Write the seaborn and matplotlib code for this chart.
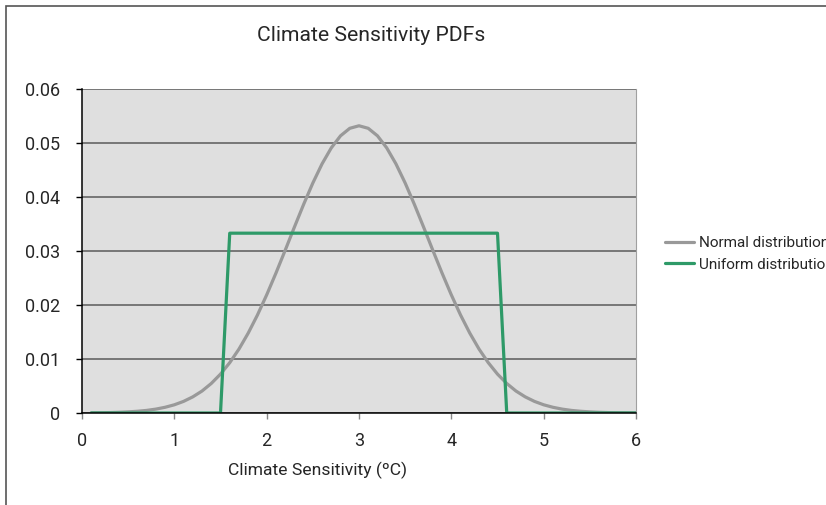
import numpy as np
import pandas as pd
import seaborn as sns
import matplotlib.pyplot as plt
from matplotlib.patches import Rectangle

# Sensitivity grid (ºC) and the two PDFs (probability per 0.1 ºC bin).
sensitivity = [round(0.1 * i, 1) for i in range(1, 61)]
normal_pdf = [
    0.00003, 0.00005, 0.00008, 0.00013, 0.00021, 0.00032, 0.00048, 0.00072, 0.00106, 0.00152,
    0.00215, 0.00299, 0.00407, 0.00547, 0.00720, 0.00932, 0.01184, 0.01479, 0.01814, 0.02187,
    0.02589, 0.03011, 0.03441, 0.03862, 0.04259, 0.04614, 0.04910, 0.05133, 0.05272, 0.05319,
    0.05272, 0.05133, 0.04910, 0.04614, 0.04259, 0.03862, 0.03441, 0.03011, 0.02589, 0.02187,
    0.01814, 0.01479, 0.01184, 0.00932, 0.00720, 0.00547, 0.00407, 0.00299, 0.00215, 0.00152,
    0.00106, 0.00072, 0.00048, 0.00032, 0.00021, 0.00013, 0.00008, 0.00005, 0.00003, 0.00002,
]
uniform_pdf = [0.0] * 15 + [0.0333] * 30 + [0.0] * 15
series_names = ['Normal distribution', 'Uniform distribution']
x_ticks = [0, 1, 2, 3, 4, 5, 6]
y_ticks = [0, 0.01, 0.02, 0.03, 0.04, 0.05, 0.06]
y_tick_labels = ['0', '0.01', '0.02', '0.03', '0.04', '0.05', '0.06']

df = pd.DataFrame({
    'sensitivity': sensitivity * 2,
    'pdf': normal_pdf + uniform_pdf,
    'series': [series_names[0]] * len(sensitivity) + [series_names[1]] * len(sensitivity),
})

sns.set_style('white')
plt.rcParams['font.family'] = ['Roboto', 'DejaVu Sans']

fig = plt.figure(figsize=(8.26, 5.05), dpi=100)
ax = fig.add_axes([82 / 826, 1 - 413 / 505, (636 - 82) / 826, (413 - 89) / 505])
ax.set_facecolor('#dfdfdf')

sns.lineplot(data=df, x='sensitivity', y='pdf', hue='series',
             palette=['#999999', '#2e9a68'], linewidth=2.3, ax=ax, legend=True)

ax.set_xlim(0, 6)
ax.set_ylim(0, 0.06)
ax.set_xticks(x_ticks)
ax.set_yticks(y_ticks)
ax.set_yticklabels(y_tick_labels)
ax.yaxis.grid(True, color='#5a5a5a', linewidth=1.1)
ax.set_axisbelow(True)
ax.tick_params(axis='y', length=4.5, width=1, color='black', labelsize=13, direction='out',
               left=True, pad=11)
ax.tick_params(axis='x', length=4, width=1, color='#888888', labelsize=13, direction='out',
               bottom=True, pad=10)
for side in ['left', 'bottom']:
    ax.spines[side].set_color('black')
    ax.spines[side].set_linewidth(1.1)
ax.spines['top'].set_visible(False)
ax.spines['right'].set_color('#a0a0a0')

ax.set_xlabel('')
ax.set_ylabel('')
fig.text(318 / 826, 1 - 470 / 505, 'Climate Sensitivity (ºC)', ha='center', va='center', fontsize=12.6)

# Legend sits to the right and runs off the edge, as in the reference.
handles, labels = ax.get_legend_handles_labels()
ax.get_legend().remove()
fig.legend(handles, labels, loc='upper left', bbox_to_anchor=(659 / 826, 1 - 230 / 505),
           frameon=False, fontsize=11, handlelength=1.9, handletextpad=0.35,
           labelspacing=0.5, borderaxespad=0)

fig.text(371 / 826, 1 - 35 / 505, 'Climate Sensitivity PDFs', ha='center', va='center', fontsize=15.2)

# Outer chart border (cropped on the right and bottom).
fig.patches.append(Rectangle((6 / 826, -0.2), 2, 1.2 - 6 / 505, transform=fig.transFigure,
                             fill=False, edgecolor='#555555', linewidth=1.2))

plt.savefig('out.png', dpi=100)
